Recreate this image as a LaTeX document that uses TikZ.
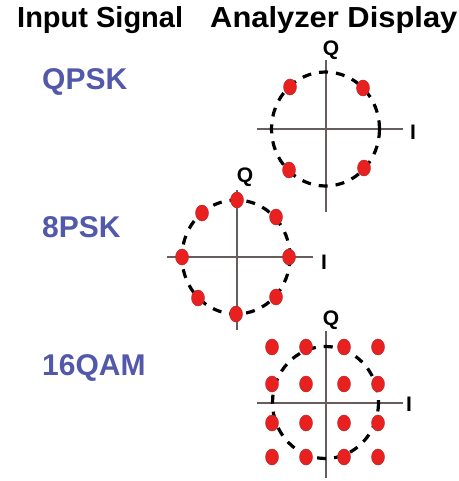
\documentclass[tikz,border=0pt]{standalone}
\usepackage{fontspec}
\setmainfont{Liberation Sans}
\usetikzlibrary{shapes.geometric}
\definecolor{lblblue}{RGB}{82,88,170}
\definecolor{dotred}{RGB}{232,32,32}
\definecolor{dotedge}{RGB}{180,40,40}
\definecolor{axisc}{RGB}{105,92,92}
\tikzset{
  hdr/.style={font=\bfseries\fontsize{29}{31}\selectfont, anchor=base west, inner sep=0pt},
  sig/.style={font=\bfseries\fontsize{30}{32}\selectfont, text=lblblue, anchor=west, inner sep=0pt},
  axlbl/.style={font=\bfseries\fontsize{21}{23}\selectfont, inner sep=0pt},
  axis/.style={draw=axisc, line width=1.3pt},
  ring/.style={draw=black, line width=3.2pt, dash pattern=on 9pt off 8pt},
  dot/.style={ellipse, fill=dotred, draw=dotedge, line width=0.4pt, minimum width=13pt, minimum height=16pt, inner sep=0pt}
}
\begin{document}
\begin{tikzpicture}[x=1pt,y=-1pt]
\useasboundingbox (0,0) rectangle (458,481);
% headers
\node[hdr] (h1) at (17,28) {Input Signal};
\node[hdr] (h2) at (210,28) {\scalebox{1.065}[1]{Analyzer Display}};
% signal labels
\node[sig] (s1) at (42,82) {QPSK};
\node[sig] (s2) at (42,227) {8PSK};
\node[sig] (s3) at (42,368) {16QAM};

% QPSK
\coordinate (qc) at (325.5,129);
\coordinate (qt) at (326,60); \coordinate (qb) at (326,212);
\coordinate (ql) at (257,129); \coordinate (qr) at (403,129);
\draw[axis] (qt) -- (qb);
\draw[axis] (ql) -- (qr);
\draw[ring] (qc) ellipse [x radius=54, y radius=57];
\node[axlbl] (qQ) at (331,50) {Q};
\node[axlbl] (qI) at (413,132) {I};
\node[dot] (qd1) at (290,87) {};
\node[dot] (qd2) at (363,88) {};
\node[dot] (qd3) at (289,170) {};
\node[dot] (qd4) at (364,168) {};

% 8PSK
\coordinate (ec) at (236,257);
\coordinate (et) at (237,190); \coordinate (eb) at (237,330);
\coordinate (el) at (167,257); \coordinate (er) at (313,257);
\draw[axis] (et) -- (eb);
\draw[axis] (el) -- (er);
\draw[ring] (ec) ellipse [x radius=54, y radius=57];
\node[axlbl] (eQ) at (245,177) {Q};
\node[axlbl] (eI) at (324,262) {I};
\node[dot] (ed1) at (237,200) {};
\node[dot] (ed2) at (276,217) {};
\node[dot] (ed3) at (289,257) {};
\node[dot] (ed4) at (276,297) {};
\node[dot] (ed5) at (236,314) {};
\node[dot] (ed6) at (198,298) {};
\node[dot] (ed7) at (182,257) {};
\node[dot] (ed8) at (202,213) {};

% 16QAM
\coordinate (mc) at (325.5,402.5);
\coordinate (mt) at (326,331); \coordinate (mb) at (326,478);
\coordinate (ml) at (257,403); \coordinate (mr) at (403,403);
\draw[axis] (mt) -- (mb);
\draw[axis] (ml) -- (mr);
\draw[ring] (mc) ellipse [x radius=53, y radius=56];
\node[axlbl] (mQ) at (331,320) {Q};
\node[axlbl] (mI) at (409,404) {I};
\foreach \i/\x in {1/272,2/306,3/344,4/378}{
  \foreach \j/\y in {1/347,2/384,3/423,4/457}{
    \node[dot] (m\i\j) at (\x,\y) {};
  }
}
\end{tikzpicture}
\end{document}
